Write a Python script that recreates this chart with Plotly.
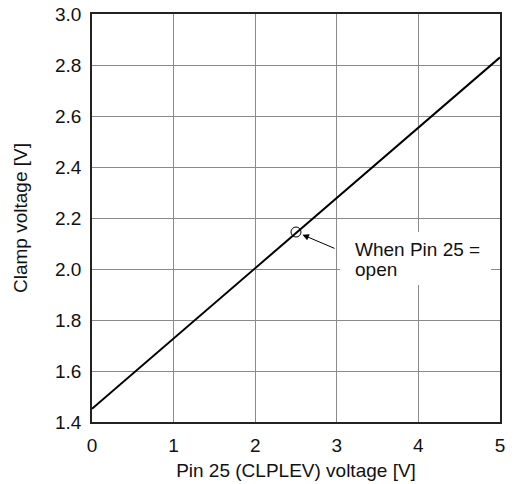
import plotly.graph_objects as go

# Data
pin_voltage = [0, 5]
clamp_voltage = [1.452, 2.83]
open_pin_x = [2.5]
open_pin_y = [2.145]
x_ticks = [0, 1, 2, 3, 4, 5]
y_ticks = [1.4, 1.6, 1.8, 2.0, 2.2, 2.4, 2.6, 2.8, 3.0]
note_line1 = "When Pin 25 ="
note_line2 = "open"

FONT = dict(family="Liberation Sans, Arial, sans-serif", size=19, color="#111")

fig = go.Figure()
fig.add_trace(go.Scatter(x=pin_voltage, y=clamp_voltage, mode="lines",
                         line=dict(color="black", width=2), showlegend=False))
fig.add_trace(go.Scatter(x=open_pin_x, y=open_pin_y, mode="markers",
                         marker=dict(symbol="circle-open", size=10, color="black",
                                     line=dict(width=1)), showlegend=False))

# white box behind the note
fig.add_shape(type="rect", xref="x", yref="y", x0=3.04, x1=4.89, y0=1.937, y1=2.145,
              fillcolor="white", line=dict(width=0), layer="between")

fig.add_annotation(x=open_pin_x[0], y=open_pin_y[0], xref="x", yref="y", text="",
                   showarrow=True, ax=40, ay=17, standoff=7, arrowhead=2,
                   arrowsize=1.3, arrowwidth=1, arrowcolor="black")
fig.add_annotation(x=3.195, y=2.078, xref="x", yref="y", text=note_line1,
                   showarrow=False, xanchor="left", yanchor="middle", font=FONT)
fig.add_annotation(x=3.195, y=2.0, xref="x", yref="y", text=note_line2,
                   showarrow=False, xanchor="left", yanchor="middle", font=FONT)

fig.update_xaxes(range=[0, 5], tickvals=x_ticks, ticktext=[str(v) for v in x_ticks],
                 showgrid=True, gridcolor="#8a8a8a", gridwidth=1,
                 showline=True, linecolor="#222", linewidth=1.5, mirror=True,
                 ticks="outside", ticklen=5, tickcolor="rgba(0,0,0,0)",
                 zeroline=False, tickfont=FONT, automargin=False,
                 title=dict(text="Pin 25 (CLPLEV) voltage [V]", font=FONT, standoff=9))
fig.update_yaxes(range=[1.4, 3.0], tickvals=y_ticks, ticktext=[f"{v:.1f}" for v in y_ticks],
                 showgrid=True, gridcolor="#8a8a8a", gridwidth=1,
                 showline=True, linecolor="#222", linewidth=1.5, mirror=True,
                 ticks="outside", ticklen=5, tickcolor="rgba(0,0,0,0)",
                 zeroline=False, tickfont=FONT, automargin=False,
                 title=dict(text="Clamp voltage [V]", font=FONT, standoff=22))

fig.update_layout(width=514, height=484, margin=dict(l=92, r=14, t=14, b=62),
                  plot_bgcolor="white", paper_bgcolor="white", font=FONT)

fig.write_html("out.html", config={"displayModeBar": False},
               post_script="document.body.style.margin='0';")
